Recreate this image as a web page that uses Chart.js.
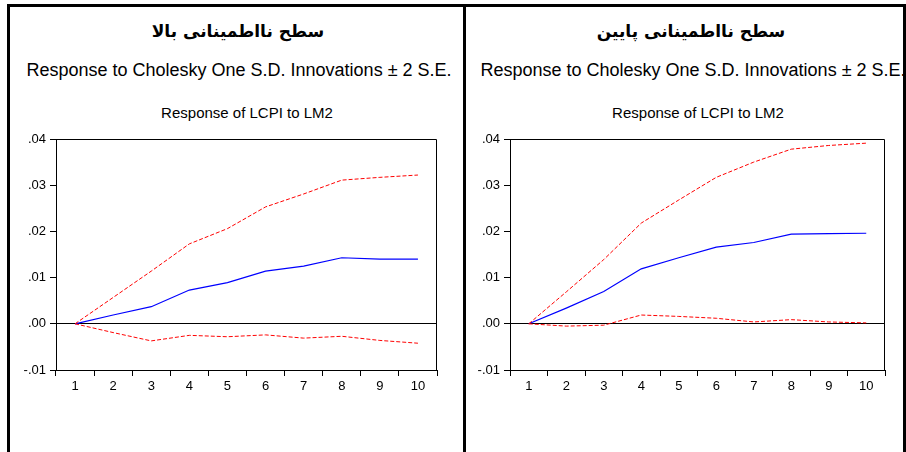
<!DOCTYPE html>
<html>
<head>
<meta charset="utf-8">
<script src="https://cdn.jsdelivr.net/npm/chart.js@4.4.0/dist/chart.umd.min.js"></script>
<style>
  body { margin: 0; background: #fff; width: 906px; height: 452px; overflow: hidden; position: relative; }
  .frame { position: absolute; left: 7px; top: 4px; width: 893px; height: 470px; border: 3px solid #000; border-bottom: none; }
  .divider { position: absolute; left: 463px; top: 4px; width: 3px; height: 470px; background: #000; }
  .ptitle { position: absolute; width: 400px; text-align: center; font: bold 17px "DejaVu Sans"; line-height: 22px; top: 20px; color: #000; }
  .sub { position: absolute; width: 460px; text-align: center; font: 18px "Liberation Sans", Arial; line-height: 18px; top: 61px; color: #000; }
  .ctitle { position: absolute; width: 300px; text-align: center; font: 15px "Liberation Sans", Arial; line-height: 15px; top: 105px; color: #000; }
  .plot { position: absolute; top: 125px; height: 280px; }
</style>
</head>
<body>
<div class="frame"></div>
<div class="divider"></div>

<div class="ptitle" dir="rtl" id="t1" style="left:38px"></div>
<div class="sub" id="s1" style="left:9px"></div>
<div class="ctitle" id="c1" style="left:97px"></div>
<div class="plot" style="left:12px;width:440px"><canvas id="chart1" width="440" height="280"></canvas></div>

<div class="ptitle" dir="rtl" id="t2" style="left:491px"></div>
<div class="sub" id="s2" style="left:463px"></div>
<div class="ctitle" id="c2" style="left:548px"></div>
<div class="plot" style="left:467px;width:433px"><canvas id="chart2" width="433" height="280"></canvas></div>

<script>
var panelTitles = ["سطح نااطمینانی بالا", "سطح نااطمینانی پایین"];
var subTitle = "Response to Cholesky One S.D. Innovations \u00b1 2 S.E.";
var chartTitle = "Response of LCPI to LM2";

var periods = ["1", "2", "3", "4", "5", "6", "7", "8", "9", "10"];
var yTicks = [-0.01, 0, 0.01, 0.02, 0.03, 0.04];
var yTickLabels = ["-.01", ".00", ".01", ".02", ".03", ".04"];

// high uncertainty
var highResponse = [0, 0.0019, 0.0037, 0.0073, 0.0089, 0.0114, 0.0125, 0.0143, 0.0140, 0.0140];
var highUpper    = [0, 0.0057, 0.0114, 0.0173, 0.0206, 0.0253, 0.0281, 0.0311, 0.0317, 0.0322];
var highLower    = [0, -0.0019, -0.0037, -0.0025, -0.0028, -0.0024, -0.0031, -0.0027, -0.0036, -0.0042];

// low uncertainty
var lowResponse = [0, 0.0034, 0.0070, 0.0119, 0.0143, 0.0166, 0.0176, 0.0194, 0.0195, 0.0196];
var lowUpper    = [0, 0.0069, 0.0139, 0.0218, 0.0268, 0.0317, 0.0350, 0.0378, 0.0386, 0.0391];
var lowLower    = [0, -0.0005, -0.0003, 0.0019, 0.0016, 0.0012, 0.0004, 0.0009, 0.0004, 0.0002];

document.getElementById("t1").textContent = panelTitles[0];
document.getElementById("t2").textContent = panelTitles[1];
document.getElementById("s1").textContent = subTitle;
document.getElementById("s2").textContent = subTitle;
document.getElementById("c1").textContent = chartTitle;
document.getElementById("c2").textContent = chartTitle;

var plotBox = {
  id: "plotBox",
  afterDraw: function(chart) {
    var a = chart.chartArea, c = chart.ctx;
    c.save();
    c.strokeStyle = "#000";
    c.lineWidth = 1;
    c.beginPath();
    c.moveTo(Math.round(a.left) + 0.5, Math.round(a.top) + 0.5);
    c.lineTo(Math.round(a.right) - 0.5, Math.round(a.top) + 0.5);
    c.lineTo(Math.round(a.right) - 0.5, Math.round(a.bottom));
    c.stroke();
    c.restore();
  }
};

function montarGrafico(id, response, upper, lower, yWidth) {
  var tickFont = { family: "'Liberation Sans', Arial", size: 13 };
  return new Chart(document.getElementById(id).getContext("2d"), {
    type: "line",
    data: {
      labels: periods,
      datasets: [
        { data: upper, borderColor: "#ff0000", borderWidth: 1, borderDash: [4, 2], pointRadius: 0, fill: false, tension: 0 },
        { data: lower, borderColor: "#ff0000", borderWidth: 1, borderDash: [4, 2], pointRadius: 0, fill: false, tension: 0 },
        { data: response, borderColor: "#0000ff", borderWidth: 1.2, pointRadius: 0, fill: false, tension: 0 }
      ]
    },
    options: {
      responsive: false,
      animation: false,
      events: [],
      layout: { padding: { top: 14, right: 15, bottom: 0, left: 0 } },
      plugins: { legend: { display: false }, title: { display: false }, tooltip: { enabled: false } },
      scales: {
        x: {
          type: "category",
          offset: true,
          grid: { offset: true, drawOnChartArea: false, drawTicks: true, tickLength: 6, tickColor: "#000" },
          border: { display: true, color: "#000", width: 1 },
          ticks: { color: "#000", font: tickFont, padding: 3, maxRotation: 0, autoSkip: false },
          afterFit: function(axis) { axis.height = 35; }
        },
        y: {
          min: -0.01,
          max: 0.04,
          afterBuildTicks: function(axis) {
            axis.ticks = yTicks.map(function(v) { return { value: v }; });
          },
          grid: {
            drawOnChartArea: true,
            drawTicks: true,
            tickLength: 6,
            tickColor: "#000",
            color: function(ctx) {
              return ctx.tick && Math.abs(ctx.tick.value) < 1e-9 ? "#000" : "rgba(0,0,0,0)";
            }
          },
          border: { display: true, color: "#000", width: 1 },
          ticks: {
            color: "#000",
            font: tickFont,
            padding: 4,
            callback: function(value, index) { return yTickLabels[index]; }
          },
          afterFit: function(axis) { axis.width = yWidth; }
        }
      }
    },
    plugins: [plotBox]
  });
}

window.onload = function() {
  montarGrafico("chart1", highResponse, highUpper, highLower, 44);
  montarGrafico("chart2", lowResponse, lowUpper, lowLower, 43);
};
</script>
</body>
</html>
